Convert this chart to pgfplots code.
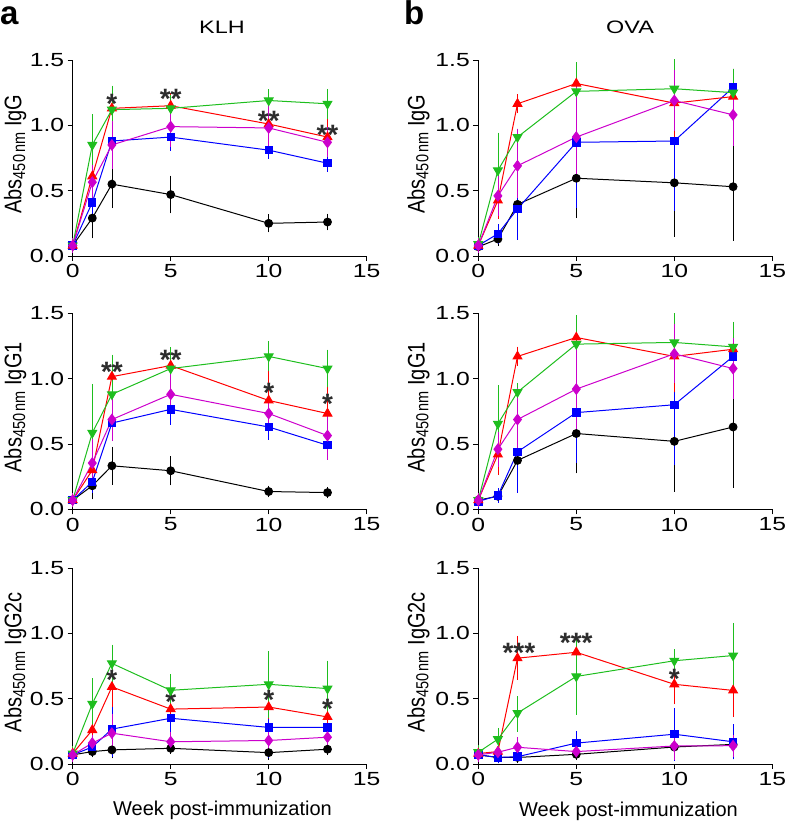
\documentclass[border=0pt]{standalone}
\usepackage{fontspec}
\setmainfont{Liberation Sans}
\newfontfamily\widefont[FakeStretch=1.3]{Liberation Sans}
\usepackage{pgfplots}
\pgfplotsset{compat=1.18}
\definecolor{cgreen}{RGB}{30,190,30}
\definecolor{cmag}{RGB}{204,0,204}
\definecolor{cblue}{RGB}{0,0,255}
\definecolor{cred}{RGB}{255,0,0}
\definecolor{cstar}{RGB}{45,45,45}
\tikzset{st/.style={font=\fontsize{28}{28}\selectfont\bfseries, text=cstar, inner sep=0pt, yshift=-3.5pt}}
\pgfplotsset{
 eb/.style={error bars/.cd, y dir=both, y explicit, error bar style={line width=0.8pt, solid}, error mark options={mark size=4.5pt, line width=0.8pt}},
 sblk/.style={black, line width=1pt, mark=*, mark size=3.9pt, eb},
 sblu/.style={cblue, line width=1pt, mark=square*, mark size=3.7pt, eb},
 sred/.style={cred, line width=1pt, mark=triangle*, mark size=5pt, eb},
 sgrn/.style={cgreen, line width=1pt, mark=triangle*, mark size=5pt, mark options={rotate=180}, eb},
 smag/.style={cmag, line width=1pt, mark=diamond*, mark size=5.2pt, eb},
 panel/.style={scale only axis, width=294pt, height=196pt, anchor=south west,
  xmin=0, xmax=15, ymin=0, ymax=1.5,
  axis lines=left, axis line style={-, line width=0.9pt, black},
  xtick={0,5,10,15}, ytick={0,0.5,1,1.5},
  tick align=outside, major tick length=5pt,
  every tick/.style={black, line width=0.9pt},
  ticklabel style={font=\widefont\fontsize{19}{19}\selectfont},
  yticklabel style={/pgf/number format/.cd, fixed, fixed zerofill, precision=1},
  /pgf/number format/assume math mode=true,
  clip=false,
  every axis y label/.style={at={(axis description cs:#1,0.52)}, rotate=90, anchor=center, font=\fontsize{20}{20}\selectfont}},
}
\newcommand{\abs}[1]{\scalebox{1}[1.2]{Abs\raisebox{-0.3ex}{\fontsize{14.5}{14.5}\selectfont 450\,nm}\ #1}}
\begin{document}
\begin{tikzpicture}[x=1pt,y=1pt]
\useasboundingbox (0,0) rectangle (787,824);
% ---------- a: KLH IgG ----------
\begin{axis}[panel=-0.196, at={(72.7pt,568pt)}, ylabel={\abs{IgG}}]
\addplot[sblk] coordinates {(0,0.08) +- (0,0.02) (1,0.29) +- (0,0.12) (2,0.55) +- (0,0.15) (5,0.47) +- (0,0.11) (10,0.25) +- (0,0.035) (13,0.26) +- (0,0.03)};
\addplot[sblu] coordinates {(0,0.08) +- (0,0.02) (1,0.41) +- (0,0.10) (2,0.88) +- (0,0.07) (5,0.91) +- (0,0.07) (10,0.81) +- (0,0.03) (13,0.71) +- (0,0.03)};
\addplot[sred] coordinates {(0,0.08) +- (0,0.02) (1,0.61) +- (0,0.12) (2,1.13) +- (0,0.08) (5,1.15) +- (0,0.06) (10,1.01) +- (0,0.12) (13,0.91) +- (0,0.12)};
\addplot[sgrn] coordinates {(0,0.08) +- (0,0.02) (1,0.85) +- (0,0.20) (2,1.12) +- (0,0.15) (5,1.13) +- (0,0.07) (10,1.19) +- (0,0.05) (13,1.165) +- (0,0.08)};
\addplot[smag] coordinates {(0,0.08) +- (0,0.02) (1,0.565) +- (0,0.10) (2,0.85) +- (0,0.15) (5,0.99) +- (0,0.12) (10,0.98) +- (0,0.15) (13,0.87) +- (0,0.08)};
\node[st] at (axis cs:2,1.19) {*};
\node[st] at (axis cs:5,1.23) {**};
\node[st] at (axis cs:10,1.06) {**};
\node[st] at (axis cs:13,0.95) {**};
\end{axis}
% ---------- b: OVA IgG ----------
\begin{axis}[panel=-0.204, at={(478.3pt,568pt)}, ylabel={\abs{IgG}}]
\addplot[sblk] coordinates {(0,0.07) +- (0,0.02) (1,0.13) +- (0,0.02) (2,0.395) += (0,0.17) -= (0,0.19) (5,0.595) +- (0,0.27) (10,0.56) +- (0,0.38) (13,0.53) +- (0,0.38)};
\addplot[sblu] coordinates {(0,0.08) +- (0,0.02) (1,0.17) +- (0,0.04) (2,0.36) +- (0,0.20) (5,0.87) += (0,0.25) -= (0,0.47) (10,0.88) +- (0,0.50) (13,1.29) += (0,0.11) -= (0,0.2)};
\addplot[sred] coordinates {(0,0.08) +- (0,0.02) (1,0.425) += (0,0.155) -= (0,0.105) (2,1.165) +- (0,0.04) (5,1.32) +- (0,0.11) (10,1.17) += (0,0.24) -= (0,0.225) (13,1.22) +- (0,0.18)};
\addplot[sgrn] coordinates {(0,0.09) +- (0,0.02) (1,0.655) +- (0,0.255) (2,0.91) += (0,0.03) -= (0,0.065) (5,1.26) +- (0,0.19) (10,1.28) += (0,0.19) -= (0,0.21) (13,1.25) +- (0,0.15)};
\addplot[smag] coordinates {(0,0.08) +- (0,0.02) (1,0.46) +- (0,0.12) (2,0.69) += (0,0.25) -= (0,0.215) (5,0.91) += (0,0.35) -= (0,0.31) (10,1.19) +- (0,0.2) (13,1.08) +- (0,0.2)};
\end{axis}
% ---------- a: KLH IgG1 ----------
\begin{axis}[panel=-0.196, at={(72.7pt,314.7pt)}, ylabel={\abs{IgG1}}]
\addplot[sblk] coordinates {(0,0.07) +- (0,0.02) (1,0.18) +- (0,0.07) (2,0.333) +- (0,0.11) (5,0.295) +- (0,0.078) (10,0.136) +- (0,0.01) (13,0.128) +- (0,0.01)};
\addplot[sblu] coordinates {(0,0.07) +- (0,0.02) (1,0.21) +- (0,0.05) (2,0.66) +- (0,0.06) (5,0.765) +- (0,0.085) (10,0.63) +- (0,0.065) (13,0.49) +- (0,0.07)};
\addplot[sred] coordinates {(0,0.07) +- (0,0.02) (1,0.30) +- (0,0.08) (2,1.015) +- (0,0.07) (5,1.10) +- (0,0.10) (10,0.833) +- (0,0.20) (13,0.733) +- (0,0.20)};
\addplot[sgrn] coordinates {(0,0.07) +- (0,0.02) (1,0.585) +- (0,0.34) (2,0.88) +- (0,0.27) (5,1.077) +- (0,0.13) (10,1.17) +- (0,0.08) (13,1.077) +- (0,0.11)};
\addplot[smag] coordinates {(0,0.07) +- (0,0.02) (1,0.354) +- (0,0.15) (2,0.687) +- (0,0.13) (5,0.88) +- (0,0.12) (10,0.733) +- (0,0.07) (13,0.564) +- (0,0.15)};
\node[st] at (axis cs:2,1.08) {**};
\node[st] at (axis cs:5,1.17) {**};
\node[st] at (axis cs:10,0.92) {*};
\node[st] at (axis cs:13,0.83) {*};
\end{axis}
% ---------- b: OVA IgG1 ----------
\begin{axis}[panel=-0.204, at={(478.3pt,314.7pt)}, ylabel={\abs{IgG1}}]
\addplot[sblk] coordinates {(0,0.07) +- (0,0.02) (1,0.10) +- (0,0.01) (2,0.374) += (0,0.18) -= (0,0.17) (5,0.58) +- (0,0.27) (10,0.52) +- (0,0.35) (13,0.63) +- (0,0.43)};
\addplot[sblu] coordinates {(0,0.06) +- (0,0.02) (1,0.105) +- (0,0.02) (2,0.44) +- (0,0.28) (5,0.74) +- (0,0.35) (10,0.80) +- (0,0.43) (13,1.17) +- (0,0.11)};
\addplot[sred] coordinates {(0,0.07) +- (0,0.02) (1,0.42) +- (0,0.12) (2,1.17) +- (0,0.04) (5,1.315) +- (0,0.125) (10,1.17) += (0,0.25) -= (0,0.24) (13,1.225) +- (0,0.175)};
\addplot[sgrn] coordinates {(0,0.07) +- (0,0.02) (1,0.654) += (0,0.26) -= (0,0.25) (2,0.897) += (0,0.033) -= (0,0.057) (5,1.264) += (0,0.19) -= (0,0.2) (10,1.277) += (0,0.19) -= (0,0.21) (13,1.243) +- (0,0.157)};
\addplot[smag] coordinates {(0,0.07) +- (0,0.02) (1,0.46) +- (0,0.10) (2,0.687) +- (0,0.21) (5,0.92) +- (0,0.27) (10,1.19) +- (0,0.19) (13,1.077) +- (0,0.2)};
\end{axis}
% ---------- a: KLH IgG2c ----------
\begin{axis}[panel=-0.196, at={(72.7pt,60pt)}, ylabel={\abs{IgG2c}}]
\addplot[sblk] coordinates {(0,0.07) +- (0,0.02) (1,0.095) +- (0,0.01) (2,0.108) +- (0,0.03) (5,0.12) +- (0,0.01) (10,0.087) +- (0,0.02) (13,0.113) +- (0,0.01)};
\addplot[sblu] coordinates {(0,0.07) +- (0,0.02) (1,0.13) +- (0,0.02) (2,0.267) +- (0,0.18) (5,0.35) += (0,0.15) -= (0,0.17) (10,0.28) += (0,0.12) -= (0,0.2) (13,0.28) +- (0,0.02)};
\addplot[sred] coordinates {(0,0.08) +- (0,0.02) (1,0.26) +- (0,0.08) (2,0.59) += (0,0.13) -= (0,0.12) (5,0.42) +- (0,0.03) (10,0.436) +- (0,0.06) (13,0.36) +- (0,0.05)};
\addplot[sgrn] coordinates {(0,0.08) +- (0,0.02) (1,0.46) +- (0,0.16) (2,0.77) +- (0,0.11) (5,0.564) +- (0,0.09) (10,0.61) +- (0,0.22) (13,0.577) +- (0,0.18)};
\addplot[smag] coordinates {(0,0.07) +- (0,0.02) (1,0.16) +- (0,0.03) (2,0.236) +- (0,0.115) (5,0.17) +- (0,0.04) (10,0.18) +- (0,0.03) (13,0.205) +- (0,0.03)};
\node[st] at (axis cs:2,0.67) {*};
\node[st] at (axis cs:5,0.50) {*};
\node[st] at (axis cs:10,0.52) {*};
\node[st] at (axis cs:13,0.45) {*};
\end{axis}
% ---------- b: OVA IgG2c ----------
\begin{axis}[panel=-0.204, at={(478.3pt,60pt)}, ylabel={\abs{IgG2c}}]
\addplot[sblk] coordinates {(0,0.07) +- (0,0.02) (1,0.05) +- (0,0.01) (2,0.05) +- (0,0.01) (5,0.074) +- (0,0.01) (10,0.13) +- (0,0.07) (13,0.15) += (0,0.07) -= (0,0.08)};
\addplot[sblu] coordinates {(0,0.07) +- (0,0.02) (1,0.05) +- (0,0.01) (2,0.056) +- (0,0.01) (5,0.16) +- (0,0.06) (10,0.228) += (0,0.166) -= (0,0.172) (13,0.17) +- (0,0.1)};
\addplot[sred] coordinates {(0,0.08) +- (0,0.02) (1,0.095) +- (0,0.01) (2,0.81) += (0,0.137) -= (0,0.13) (5,0.855) +- (0,0.035) (10,0.61) += (0,0.13) -= (0,0.12) (13,0.563) += (0,0.179) -= (0,0.169)};
\addplot[sgrn] coordinates {(0,0.09) +- (0,0.02) (1,0.19) +- (0,0.052) (2,0.39) += (0,0.094) -= (0,0.11) (5,0.67) +- (0,0.258) (10,0.79) +- (0,0.052) (13,0.83) +- (0,0.216)};
\addplot[smag] coordinates {(0,0.07) +- (0,0.02) (1,0.09) +- (0,0.01) (2,0.128) +- (0,0.041) (5,0.095) +- (0,0.01) (10,0.138) +- (0,0.07) (13,0.14) +- (0,0.05)};
\node[st] at (axis cs:2.07,0.88) {***};
\node[st] at (axis cs:5,0.957) {***};
\node[st] at (axis cs:10,0.68) {*};
\end{axis}
% ---------- titles and labels ----------
\node[anchor=base, font=\widefont\fontsize{18}{18}\selectfont] at (222,790) {KLH};
\node[anchor=base, font=\widefont\fontsize{18}{18}\selectfont] at (630,790) {OVA};
\node[anchor=base west, inner sep=0pt, font=\fontsize{33}{33}\selectfont\bfseries] at (0,799) {a};
\node[anchor=base west, inner sep=0pt, font=\fontsize{33}{33}\selectfont\bfseries] at (404,799) {b};
\node[anchor=base, inner sep=0pt, font=\fontsize{20}{20}\selectfont] at (222.5,9) {Week post-immunization};
\node[anchor=base, inner sep=0pt, font=\fontsize{20}{20}\selectfont] at (628.5,7) {Week post-immunization};
\end{tikzpicture}
\end{document}
